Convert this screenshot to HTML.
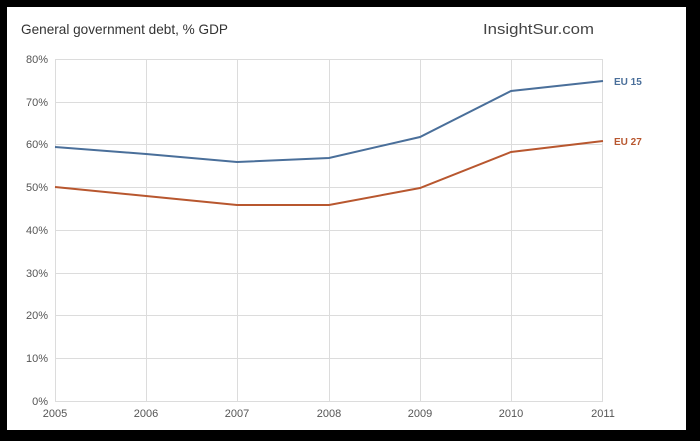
<!DOCTYPE html>
<html><head><style>
html,body{margin:0;padding:0;background:#000;}
</style></head><body>
<svg width="700" height="436" xmlns="http://www.w3.org/2000/svg" font-family="Liberation Sans, Arial, sans-serif">
<rect x="0" y="0" width="700" height="436" fill="#000"/>
<rect x="7" y="7" width="679" height="423" fill="#fff"/>
<text x="21" y="34" font-size="14" fill="#333" textLength="207" lengthAdjust="spacingAndGlyphs">General government debt, % GDP</text>
<text x="483" y="34" font-size="15" fill="#444" textLength="111" lengthAdjust="spacingAndGlyphs">InsightSur.com</text>
<g stroke="#dcdcdc" stroke-width="1">
<line x1="55" y1="59.5" x2="603" y2="59.5"/>
<line x1="55" y1="102.5" x2="603" y2="102.5"/>
<line x1="55" y1="144.5" x2="603" y2="144.5"/>
<line x1="55" y1="187.5" x2="603" y2="187.5"/>
<line x1="55" y1="230.5" x2="603" y2="230.5"/>
<line x1="55" y1="273.5" x2="603" y2="273.5"/>
<line x1="55" y1="315.5" x2="603" y2="315.5"/>
<line x1="55" y1="358.5" x2="603" y2="358.5"/>
<line x1="55" y1="401.5" x2="603" y2="401.5"/>
<line x1="55.5" y1="59" x2="55.5" y2="401"/>
<line x1="146.5" y1="59" x2="146.5" y2="401"/>
<line x1="237.5" y1="59" x2="237.5" y2="401"/>
<line x1="329.5" y1="59" x2="329.5" y2="401"/>
<line x1="420.5" y1="59" x2="420.5" y2="401"/>
<line x1="511.5" y1="59" x2="511.5" y2="401"/>
<line x1="602.5" y1="59" x2="602.5" y2="401"/>
</g>
<g font-size="11" fill="#555" text-anchor="end">
<text x="48" y="63">80%</text><text x="48" y="106">70%</text><text x="48" y="148">60%</text>
<text x="48" y="191">50%</text><text x="48" y="234">40%</text><text x="48" y="277">30%</text>
<text x="48" y="319">20%</text><text x="48" y="362">10%</text><text x="48" y="405">0%</text>
</g>
<g font-size="11" fill="#555" text-anchor="middle">
<text x="55" y="417">2005</text><text x="146" y="417">2006</text><text x="237" y="417">2007</text>
<text x="329" y="417">2008</text><text x="420" y="417">2009</text><text x="511" y="417">2010</text><text x="603" y="417">2011</text>
</g>
<polyline fill="none" stroke="#4a6f9a" stroke-width="2" points="55,147 146,154 237,162 329,158 420,137 511,91 603,81"/>
<polyline fill="none" stroke="#b8572f" stroke-width="2" points="55,187 146,196 237,205 329,205 420,188 511,152 603,141"/>
<text x="614" y="85" font-size="10" font-weight="bold" fill="#4a6f9a">EU 15</text>
<text x="614" y="145" font-size="10" font-weight="bold" fill="#b8572f">EU 27</text>
</svg>
</body></html>
